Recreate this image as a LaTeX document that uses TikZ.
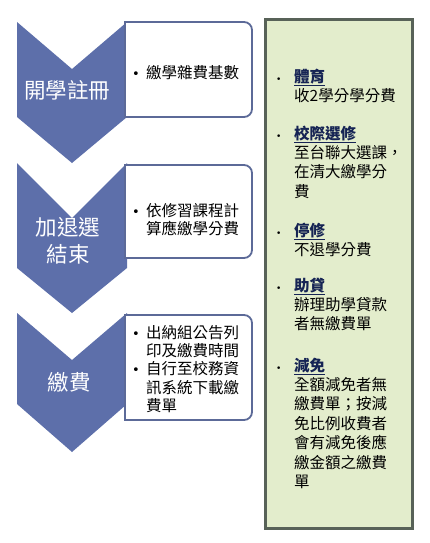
\documentclass[tikz,border=0pt]{standalone}
\usepackage{fontspec}
\setmainfont{Noto Sans CJK TC}
\newfontfamily\bulfont{DejaVu Sans}
\usetikzlibrary{positioning}
\definecolor{chevblue}{RGB}{93,111,170}
\definecolor{boxblue}{RGB}{92,106,152}
\definecolor{panelgreen}{RGB}{227,237,204}
\definecolor{panelgray}{RGB}{88,98,88}
\definecolor{headblue}{RGB}{22,36,84}
\tikzset{
    chev/.style={fill=chevblue},
    chevlabel/.style={text=white,font=\fontsize{21.5}{27}\selectfont,align=center,inner sep=0pt},
    boxline/.style={draw=boxblue,line width=1.8pt,fill=white},
    boxtext/.style={anchor=base west,inner sep=0pt,font=\fontsize{15.5}{17.5}\selectfont},
    itemtext/.style={anchor=base west,inner sep=0pt,font=\fontsize{15.5}{19.4}\selectfont},
    panel/.style={draw=panelgray,line width=3pt,fill=panelgreen}
}
\newcommand{\bul}{\makebox[14pt][l]{\bulfont\fontsize{13}{13}\selectfont •}}
\newcommand{\smallbul}{\makebox[18pt][l]{\bulfont\fontsize{9}{9}\selectfont •}}
\newcommand{\heading}[1]{\textcolor{headblue}{\bfseries\underline{#1}}}

\begin{document}
\begin{tikzpicture}[x=1pt,y=-1pt]
        \useasboundingbox (0,0) rectangle (429,543);
        % chevrons
        \fill[chev] (17,22) -- (72,69) -- (127,22) -- (127,117) -- (72,163) -- (17,117) -- cycle;
        \fill[chev] (17,163) -- (72,218) -- (127,163) -- (127,268) -- (72,313) -- (17,268) -- cycle;
        \fill[chev] (17,313) -- (72,360) -- (127,313) -- (127,404) -- (72,452) -- (17,404) -- cycle;
        \node[chevlabel] (reg) at (67,90) {開學註冊};
        \node[chevlabel] (drop) at (68,241) {加退選\\結束};
        \node[chevlabel] (pay) at (69,382) {繳費};
        % boxes
        \draw[boxline] (125,22) -- (244,22) arc[start angle=90,end angle=0,radius=8pt] -- (252,109) arc[start angle=0,end angle=-90,radius=8pt] -- (125,117) -- cycle;
        \draw[boxline] (125,165) -- (244,165) arc[start angle=90,end angle=0,radius=8pt] -- (252,250) arc[start angle=0,end angle=-90,radius=8pt] -- (125,258) -- cycle;
        \draw[boxline] (125,315) -- (244,315) arc[start angle=90,end angle=0,radius=8pt] -- (252,412) arc[start angle=0,end angle=-90,radius=8pt] -- (125,420) -- cycle;
        \node[boxtext] (regfee) at (132,78) {\bul 繳學雜費基數};
        \node[boxtext] (dropfee) at (132,216) {\begin{tabular}[t]{@{}l@{}l@{}}\bul&依修習課程計\\&算應繳學分費\end{tabular}};
        \node[boxtext] (payfee) at (132,338) {\begin{tabular}[t]{@{}l@{}l@{}}\bul&出納組公告列\\&印及繳費時間\\\bul&自行至校務資\\&訊系統下載繳\\&費單\end{tabular}};
        % notes
        \draw[panel] (265,20) rectangle (412,528);
        \node[itemtext] (pe) at (276,82) {\begin{tabular}[t]{@{}l@{}l@{}}\smallbul&\heading{體育}\\&收2學分學分費\end{tabular}};
        \node[itemtext] (inter) at (276,139) {\begin{tabular}[t]{@{}l@{}l@{}}\smallbul&\heading{校際選修}\\&至台聯大選課，\\&在清大繳學分\\&費\end{tabular}};
        \node[itemtext] (stop) at (276,236) {\begin{tabular}[t]{@{}l@{}l@{}}\smallbul&\heading{停修}\\&不退學分費\end{tabular}};
        \node[itemtext] (loan) at (276,291) {\begin{tabular}[t]{@{}l@{}l@{}}\smallbul&\heading{助貸}\\&辦理助學貸款\\&者無繳費單\end{tabular}};
        \node[itemtext] (waive) at (276,371) {\begin{tabular}[t]{@{}l@{}l@{}}\smallbul&\heading{減免}\\&全額減免者無\\&繳費單；按減\\&免比例收費者\\&會有減免後應\\&繳金額之繳費\\&單\end{tabular}};
    \end{tikzpicture}
\end{document}
